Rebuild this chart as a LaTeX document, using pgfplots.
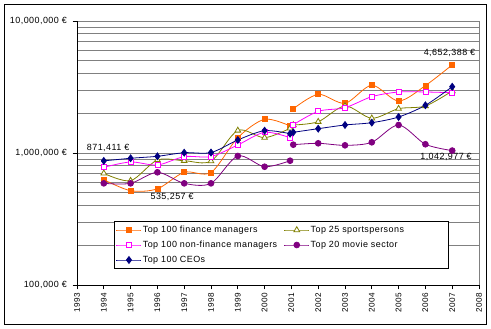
\documentclass[border=0pt]{standalone}
\usepackage{fontspec}
\setmainfont{Liberation Sans}[LetterSpace=5]
\usepackage{pgfplots}
\pgfplotsset{compat=1.18}
\definecolor{cfin}{RGB}{255,102,0}
\definecolor{cspo}{RGB}{128,128,0}
\definecolor{cnon}{RGB}{255,0,255}
\definecolor{cmov}{RGB}{128,0,128}
\definecolor{cceo}{RGB}{0,0,128}
\definecolor{cgrid}{RGB}{128,128,128}
\begin{document}
\begin{tikzpicture}
\useasboundingbox (0,0) rectangle (491bp,329bp);
\draw[black, line width=0.8pt] (4.7bp,4.2bp) rectangle (486.2bp,324.4bp);
\begin{axis}[
  at={(77bp,44bp)}, anchor=south west,
  scale only axis, width=402bp, height=264bp,
  xmin=1993, xmax=2008, ymin=1e5, ymax=1e7, ymode=log,
  xtick={1993,1994,1995,1996,1997,1998,1999,2000,2001,2002,2003,2004,2005,2006,2007,2008},
  xticklabels={1993,1994,1995,1996,1997,1998,1999,2000,2001,2002,2003,2004,2005,2006,2007,2008},
  ytick={1e5,1e6,1e7},
  yticklabels={{100,000 €},{1,000,000 €},{10,000,000 €}},
  axis x line*=bottom, axis y line*=left,
  tick align=outside, major tick length=4.5bp, minor tick length=0pt,
  ymajorgrids, yminorgrids,
  major grid style={cgrid, line width=0.8pt},
  minor grid style={cgrid, line width=0.8pt},
  axis line style={black, line width=0.8pt},
  every tick/.style={black, line width=0.8pt},
  xticklabel style={rotate=90, anchor=east, font=\fontsize{8.2}{9}\selectfont, inner sep=1bp},
  yticklabel style={font=\fontsize{9}{10}\selectfont, inner sep=1bp},
  xticklabel shift=2bp, yticklabel shift=4.5bp,
  clip=false,
  legend columns=2, legend cell align=left,
  legend style={at={(0.092,0.242)}, anchor=north west, draw=black, line width=0.8pt, fill=white,
    font=\fontsize{9}{10}\selectfont, inner xsep=1.7bp, inner ysep=3bp,
    nodes={inner sep=1bp, text height=7bp, text depth=2bp}, row sep=4bp,
    /tikz/every even column/.append style={column sep=5bp}},
  legend image code/.code={\draw[mark repeat=2,mark phase=2] plot coordinates {(0bp,0bp) (12.5bp,0bp) (25bp,0bp)};},
  ser/.style={line width=0.8pt, smooth, mark options={solid, line width=0.8pt}},
]
% finance
\addplot[ser, cfin, mark=square*, mark size=2.5bp] coordinates {
 (1994,628000) (1995,518000) (1996,535257) (1997,714000) (1998,712000) (1999,1306000) (2000,1800000) (2000.95,1602000)};
\addlegendentry{\makebox[135bp][l]{Top 100 finance managers}}
\addplot[ser, cfin, mark=square*, mark size=2.5bp, forget plot] coordinates {
 (2001.07,2161000) (2002,2784000) (2003,2380000) (2004,3258000) (2005,2477000) (2006,3240000) (2007,4652388)};
% sports
\addplot[ser, cspo, mark=triangle*, mark size=3.3bp, mark options={fill=white}] coordinates {
 (1994,702000) (1995,617000) (1996,885000) (1997,874000) (1998,868000) (1999,1481000) (2000,1306000) (2000.95,1539000)};
\addlegendentry{\makebox[135bp][l]{Top 25 sportspersons}}
\addplot[ser, cspo, mark=triangle*, mark size=3.3bp, mark options={fill=white}, forget plot] coordinates {
 (2001.07,1630000) (2002,1726000) (2003,2271000) (2004,1833000) (2005,2166000) (2006,2271000) (2007,2950000)};
% non-finance
\addplot[ser, cnon, mark=square*, mark size=2.5bp, mark options={fill=white}] coordinates {
 (1994,779000) (1995,855000) (1996,811000) (1997,938000) (1998,940000) (1999,1150000) (2000,1435000) (2000.95,1306000)};
\addlegendentry{\makebox[135bp][l]{Top 100 non-finance managers}}
\addplot[ser, cnon, mark=square*, mark size=2.5bp, mark options={fill=white}, forget plot] coordinates {
 (2001.07,1638000) (2002,2069000) (2003,2204000) (2004,2671000) (2005,2898000) (2006,2898000) (2007,2860000)};
% movie
\addplot[ser, cmov, mark=*, mark size=2.9bp] coordinates {
 (1994,589000) (1995,589000) (1996,714000) (1997,589000) (1998,589000) (1999,949000) (2000,787000) (2000.95,874000)};
\addlegendentry{\makebox[135bp][l]{Top 20 movie sector}}
\addplot[ser, cmov, mark=*, mark size=2.9bp, forget plot] coordinates {
 (2001.07,1156000) (2002,1184000) (2003,1143000) (2004,1205000) (2005,1630000) (2006,1165000) (2007,1042977)};
% CEOs
\addplot[ser, cceo, mark=diamond*, mark size=3.4bp] coordinates {
 (1994,871411) (1995,912000) (1996,944000) (1997,1005000) (1998,1008000) (1999,1255000) (2000,1476000) (2000.95,1400000)};
\addlegendentry{\makebox[135bp][l]{Top 100 CEOs}}
\addplot[ser, cceo, mark=diamond*, mark size=3.4bp, forget plot] coordinates {
 (2001.07,1435000) (2002,1528000) (2003,1630000) (2004,1697000) (2005,1874000) (2006,2298000) (2007,3178000)};
\draw[cgrid, line width=0.8pt] (rel axis cs:1,0) -- (rel axis cs:1,1);
\node[font=\fontsize{9}{10}\selectfont] at (axis cs:1994.16,1.092e6) {871,411 €};
\node[font=\fontsize{9}{10}\selectfont] at (axis cs:1996.55,4.64e5) {535,257 €};
\node[font=\fontsize{9}{10}\selectfont] at (axis cs:2006.9,5.73e6) {4,652,388 €};
\node[font=\fontsize{9}{10}\selectfont] at (axis cs:2006.77,9.33e5) {1,042,977 €};
\end{axis}
\end{tikzpicture}
\end{document}
